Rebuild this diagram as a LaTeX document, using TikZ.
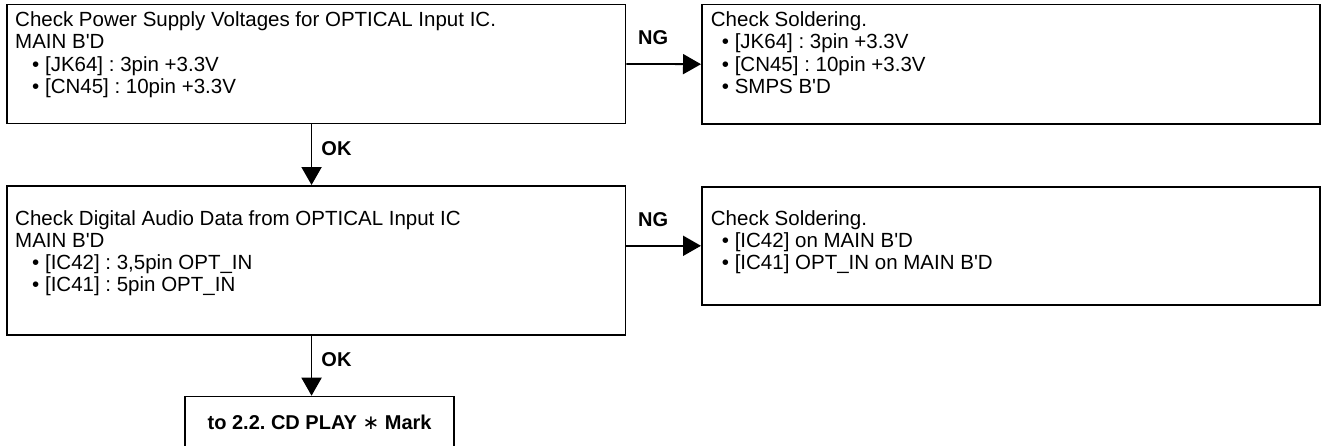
\documentclass[tikz,border=0pt]{standalone}
\usepackage{fontspec}
\setmainfont{Liberation Sans}
\newfontfamily\symfont{DejaVu Sans}
\usetikzlibrary{arrows.meta,positioning}

\newcommand{\bd}{B\textquotesingle D}
\newcommand{\itm}[1]{\hspace*{#1}\textbullet\ }
\frenchspacing

\tikzset{
  box/.style={draw, line width=1.6pt, anchor=north west, inner sep=0pt},
  txt/.style={anchor=north west, align=left, inner sep=0pt,
    font=\fontsize{20.5}{22.3}\selectfont},
  lbl/.style={inner sep=0pt, font=\fontsize{20}{20}\selectfont\bfseries},
  flow/.style={-{Triangle[length=18pt,width=20pt]}, line width=1.8pt},
}

\begin{document}
\begin{tikzpicture}[x=1pt, y=-1pt]
  \useasboundingbox (0,0) rectangle (1325,445);
  \clip (0,0) rectangle (1325,445);

  % boxes
  \node[box, minimum width=618.7pt, minimum height=119.2pt] (pwr) at (6,3.5) {};
  \node[box, minimum width=618.3pt, minimum height=119.8pt] (sold1) at (701,3.5) {};
  \node[box, minimum width=618.7pt, minimum height=149.3pt] (data) at (6,185) {};
  \node[box, minimum width=618.3pt, minimum height=118pt] (sold2) at (701,186) {};
  \node[box, minimum width=269pt, minimum height=52pt, font=\fontsize{20}{21}\selectfont\bfseries]
    (cdplay) at (184.3,395.7) {to 2.2. CD PLAY {\symfont\mdseries ∗} Mark};

  % texts
  \node[txt] (pwrtxt) at (15,11.5) {Check Power Supply Voltages for OPTICAL Input IC.\\
    MAIN \bd\\ \itm{17pt}[JK64] : 3pin +3.3V\\ \itm{17pt}[CN45] : 10pin +3.3V};
  \node[txt] (sold1txt) at (710.7,11.5) {Check Soldering.\\
    \itm{11pt}[JK64] : 3pin +3.3V\\ \itm{11pt}[CN45] : 10pin +3.3V\\ \itm{11pt}SMPS \bd};
  \node[txt] (datatxt) at (15,210) {Check Digital Audio Data from OPTICAL Input IC\\
    MAIN \bd\\ \itm{17pt}[IC42] : 3,5pin OPT\_IN\\ \itm{17pt}[IC41] : 5pin OPT\_IN};
  \node[txt] (sold2txt) at (710.7,210) {Check Soldering.\\
    \itm{11pt}[IC42] on MAIN \bd\\ \itm{11pt}[IC41] OPT\_IN on MAIN \bd};

  % connectors
  \draw[flow] (pwr.east) -- node[lbl, pos=0.36, above=18pt] {NG} (sold1.west);
  \draw[flow] ([xshift=-4.6pt]pwr.south) -- node[lbl, pos=0.4, right=9pt] {OK}
    ([xshift=-4.6pt]pwr.south |- data.north);
  \draw[flow] (data.east |- sold2.west) -- node[lbl, pos=0.36, above=18pt] {NG} (sold2.west);
  \draw[flow] ([xshift=-4.6pt]data.south) -- node[lbl, pos=0.4, right=9pt] {OK}
    ([xshift=-4.6pt]data.south |- cdplay.north);
\end{tikzpicture}
\end{document}
